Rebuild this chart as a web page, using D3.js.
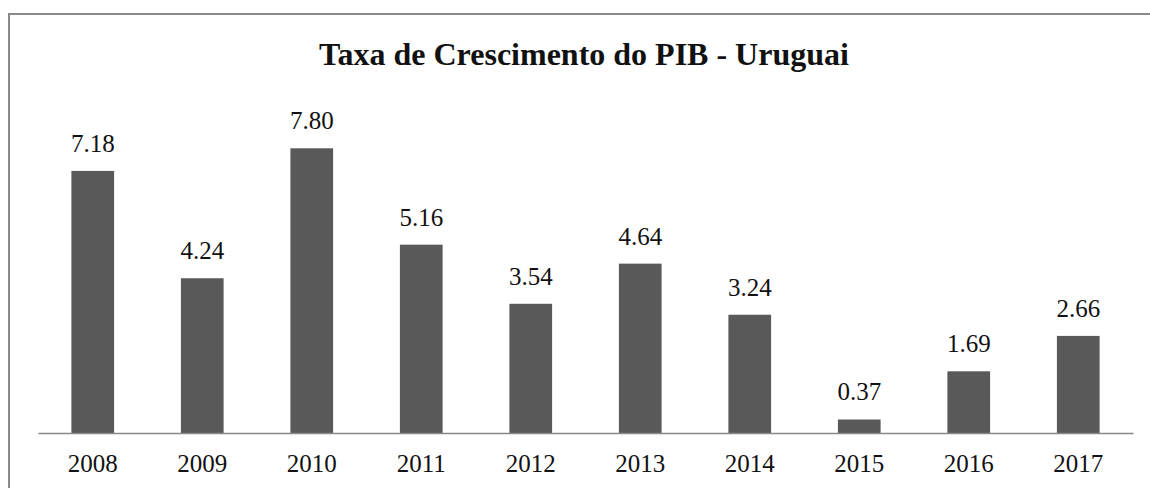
<!DOCTYPE html>
<meta charset="utf-8">
<style>
body { margin: 0; background: #fff; }
text { font-family: "Liberation Serif", "Times New Roman", serif; fill: #111; }
.title { font-weight: bold; font-size: 32px; }
.axis text { font-size: 25px; font-family: "Liberation Serif", serif; fill: #111; }
.axis path { stroke: #888; stroke-width: 1.5px; }
</style>
<svg width="1150" height="488"></svg>
<script src="https://d3js.org/d3.v7.min.js"></script>
<script>
// dados do grafico
var anos = ["2008", "2009", "2010", "2011", "2012", "2013", "2014", "2015", "2016", "2017"];
var taxas = [7.18, 4.24, 7.80, 5.16, 3.54, 4.64, 3.24, 0.37, 1.69, 2.66];

var svg = d3.select("svg");

// moldura
svg.append("rect")
    .attr("x", 9).attr("y", 14)
    .attr("width", 1160).attr("height", 500)
    .attr("fill", "none")
    .attr("stroke", "#8a8a8a")
    .attr("stroke-width", 2);

svg.append("text")
    .attr("class", "title")
    .attr("x", 584).attr("y", 65)
    .attr("text-anchor", "middle")
    .text("Taxa de Crescimento do PIB - Uruguai");

var x = d3.scaleBand()
    .domain(anos)
    .range([38, 1133])
    .paddingInner(0.61)
    .paddingOuter(0.305);

var y = d3.scaleLinear()
    .domain([0, 9])
    .range([433, 433 - 9 * 36.5]);

var data = anos.map(function(a, i) { return {ano: a, v: taxas[i]}; });

svg.append("g").selectAll("rect")
    .data(data)
  .enter().append("rect")
    .attr("x", function(d) { return x(d.ano); })
    .attr("y", function(d) { return y(d.v); })
    .attr("width", x.bandwidth())
    .attr("height", function(d) { return y(0) - y(d.v); })
    .attr("fill", "#595959");

svg.append("g")
    .attr("font-family", "'Liberation Serif', serif")
    .attr("font-size", 25)
  .selectAll("text")
    .data(data)
  .enter().append("text")
    .style("font-family", "'Liberation Serif', serif")
    .attr("x", function(d) { return x(d.ano) + x.bandwidth() / 2; })
    .attr("y", function(d) { return y(d.v) - 19; })
    .attr("text-anchor", "middle")
    .text(function(d) { return d.v.toFixed(2); });

var axis = svg.append("g")
    .attr("class", "axis")
    .attr("transform", "translate(0,433)")
    .call(d3.axisBottom(x).tickSize(0).tickSizeOuter(0).tickPadding(21));
axis.selectAll("text").attr("dy", "0.71em");
</script>
